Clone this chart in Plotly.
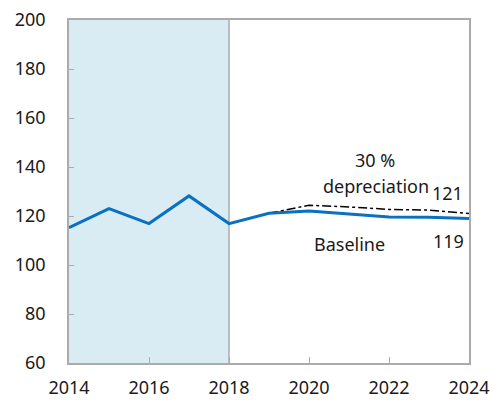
import plotly.graph_objects as go

# Index values by year
years_hist = [2014, 2015, 2016, 2017, 2018]
baseline_hist = [115.2, 123.0, 116.9, 128.2, 116.9]
years_proj = [2018, 2019, 2020, 2021, 2022, 2023, 2024]
baseline_proj = [116.9, 121.1, 122.0, 120.9, 119.6, 119.5, 119]
years_dep = [2019, 2020, 2021, 2022, 2023, 2024]
depreciation = [121.1, 124.4, 123.7, 122.7, 122.4, 121]

x_ticks = [2014, 2016, 2018, 2020, 2022, 2024]
y_ticks = [60, 80, 100, 120, 140, 160, 180, 200]

FONT = "Noto Sans"
AXIS_GREY = "#ABABAB"
BLUE = "#0A70C2"

fig = go.Figure()

fig.add_trace(go.Scatter(
    x=years_dep, y=depreciation, mode="lines",
    line=dict(color="black", width=1.5, dash="dashdot"),
    showlegend=False, hoverinfo="skip"))

fig.add_trace(go.Scatter(
    x=years_hist + years_proj[1:], y=baseline_hist + baseline_proj[1:],
    mode="lines", line=dict(color=BLUE, width=3),
    showlegend=False, hoverinfo="skip"))

# Shaded historical period
fig.add_shape(type="rect", xref="x", yref="y", x0=2014, x1=2018, y0=60, y1=200,
              fillcolor="#DAECF3", line=dict(width=0), layer="below")
fig.add_shape(type="line", xref="x", yref="y", x0=2018, x1=2018, y0=60, y1=200,
              line=dict(color=AXIS_GREY, width=1.5), layer="below")

txt = dict(family=FONT, size=18, color="#1a1a1a")
labels = [
    (2021.65, 142.9, "30 %"),
    (2021.68, 132.2, "depreciation"),
    (2023.45, 129.2, "121"),
    (2021.0, 108.6, "Baseline"),
    (2023.48, 109.8, "119"),
]
for lx, ly, lt in labels:
    fig.add_annotation(x=lx, y=ly, text=lt, showarrow=False, font=txt,
                       xanchor="center", yanchor="middle")

fig.update_layout(
    width=493, height=400,
    margin=dict(l=69, r=24, t=20, b=37),
    plot_bgcolor="white", paper_bgcolor="white",
    font=dict(family=FONT, size=18, color="#1a1a1a"),
    xaxis=dict(range=[2014, 2024], tickvals=x_ticks, showgrid=False, zeroline=False,
               showline=True, linecolor=AXIS_GREY, linewidth=1.5, mirror=True,
               ticks="inside", ticklen=6, tickcolor=AXIS_GREY, tickwidth=1,
               ticklabelstandoff=8, automargin=False),
    yaxis=dict(range=[60, 200], tickvals=y_ticks, showgrid=False, zeroline=False,
               showline=True, linecolor=AXIS_GREY, linewidth=1.5, mirror=True,
               ticks="inside", ticklen=5, tickcolor=AXIS_GREY, tickwidth=1,
               ticklabelstandoff=18, automargin=False),
)

fig.write_html("out.html")
